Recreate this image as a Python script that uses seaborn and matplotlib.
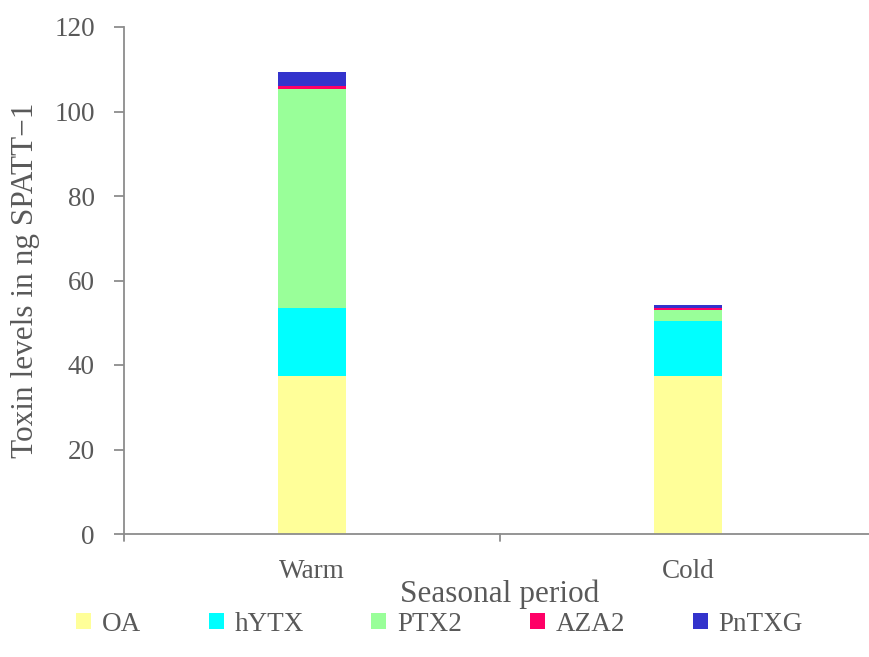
import matplotlib
matplotlib.use("Agg")
import matplotlib.pyplot as plt
import numpy as np
import pandas as pd
import seaborn as sns
from matplotlib.patches import Patch

periods = ["Warm", "Cold"]
toxins = ["OA", "hYTX", "PTX2", "AZA2", "PnTXG"]
oa = [37.3, 37.3]
hytx = [16.3, 13.0]
ptx2 = [51.8, 2.6]
aza2 = [0.7, 0.5]
pntxg = [3.3, 0.8]
colors = ["#FFFF99", "#00FFFF", "#99FF99", "#FF0066", "#3333CC"]

sns.set_theme(style="white")
plt.rcParams["font.family"] = ["Liberation Serif", "DejaVu Serif"]
text_color = "#595959"
axis_color = "#8C8C8C"

df = pd.DataFrame({"period": periods, "OA": oa, "hYTX": hytx, "PTX2": ptx2,
                   "AZA2": aza2, "PnTXG": pntxg})
cum = df[toxins].cumsum(axis=1)

fig = plt.figure(figsize=(8.7, 6.57), dpi=100)
ax = fig.add_axes([124 / 870, 123 / 657, 752 / 870, 507 / 657])

# stack by drawing cumulative totals from the top layer down
for name, color in reversed(list(zip(toxins, colors))):
    sns.barplot(x=df["period"], y=cum[name], color=color, width=0.183,
                saturation=1, ax=ax, linewidth=0, order=periods)

ax.set_xlim(-0.5, 1.5)
ax.set_ylim(0, 120)
ax.set_yticks(np.arange(0, 121, 20))
ax.set_xticks([0, 1])
ax.set_xticklabels(periods)
for x in [-0.5, 0.5, 1.5]:
    ax.plot([x, x], [0, -1.7], color=axis_color, lw=1.3, clip_on=False)

for side in ["top", "right"]:
    ax.spines[side].set_visible(False)
for side in ["left", "bottom"]:
    ax.spines[side].set_color(axis_color)
    ax.spines[side].set_linewidth(1.3)
ax.tick_params(axis="y", direction="out", length=7, width=1.3, color=axis_color,
               labelsize=19.5, labelcolor=text_color, pad=14, left=True)
ax.tick_params(axis="x", length=0, labelsize=19.5, labelcolor=text_color, pad=18)

ax.set_xlabel("Seasonal period", fontsize=22.5, color=text_color, labelpad=-3)
ax.set_ylabel("Toxin levels in ng SPATT\u22121", fontsize=22.5, color=text_color, labelpad=10)

handles = [Patch(facecolor=c, edgecolor="none", label=t) for t, c in zip(toxins, colors)]
fig.legend(handles=handles, loc="center", bbox_to_anchor=(0.505, 0.05), ncol=5,
           frameon=False, fontsize=19.5, handlelength=0.55, handleheight=0.55,
           handletextpad=0.4, columnspacing=2.5, labelcolor=text_color)

fig.savefig("out.png", dpi=100)
